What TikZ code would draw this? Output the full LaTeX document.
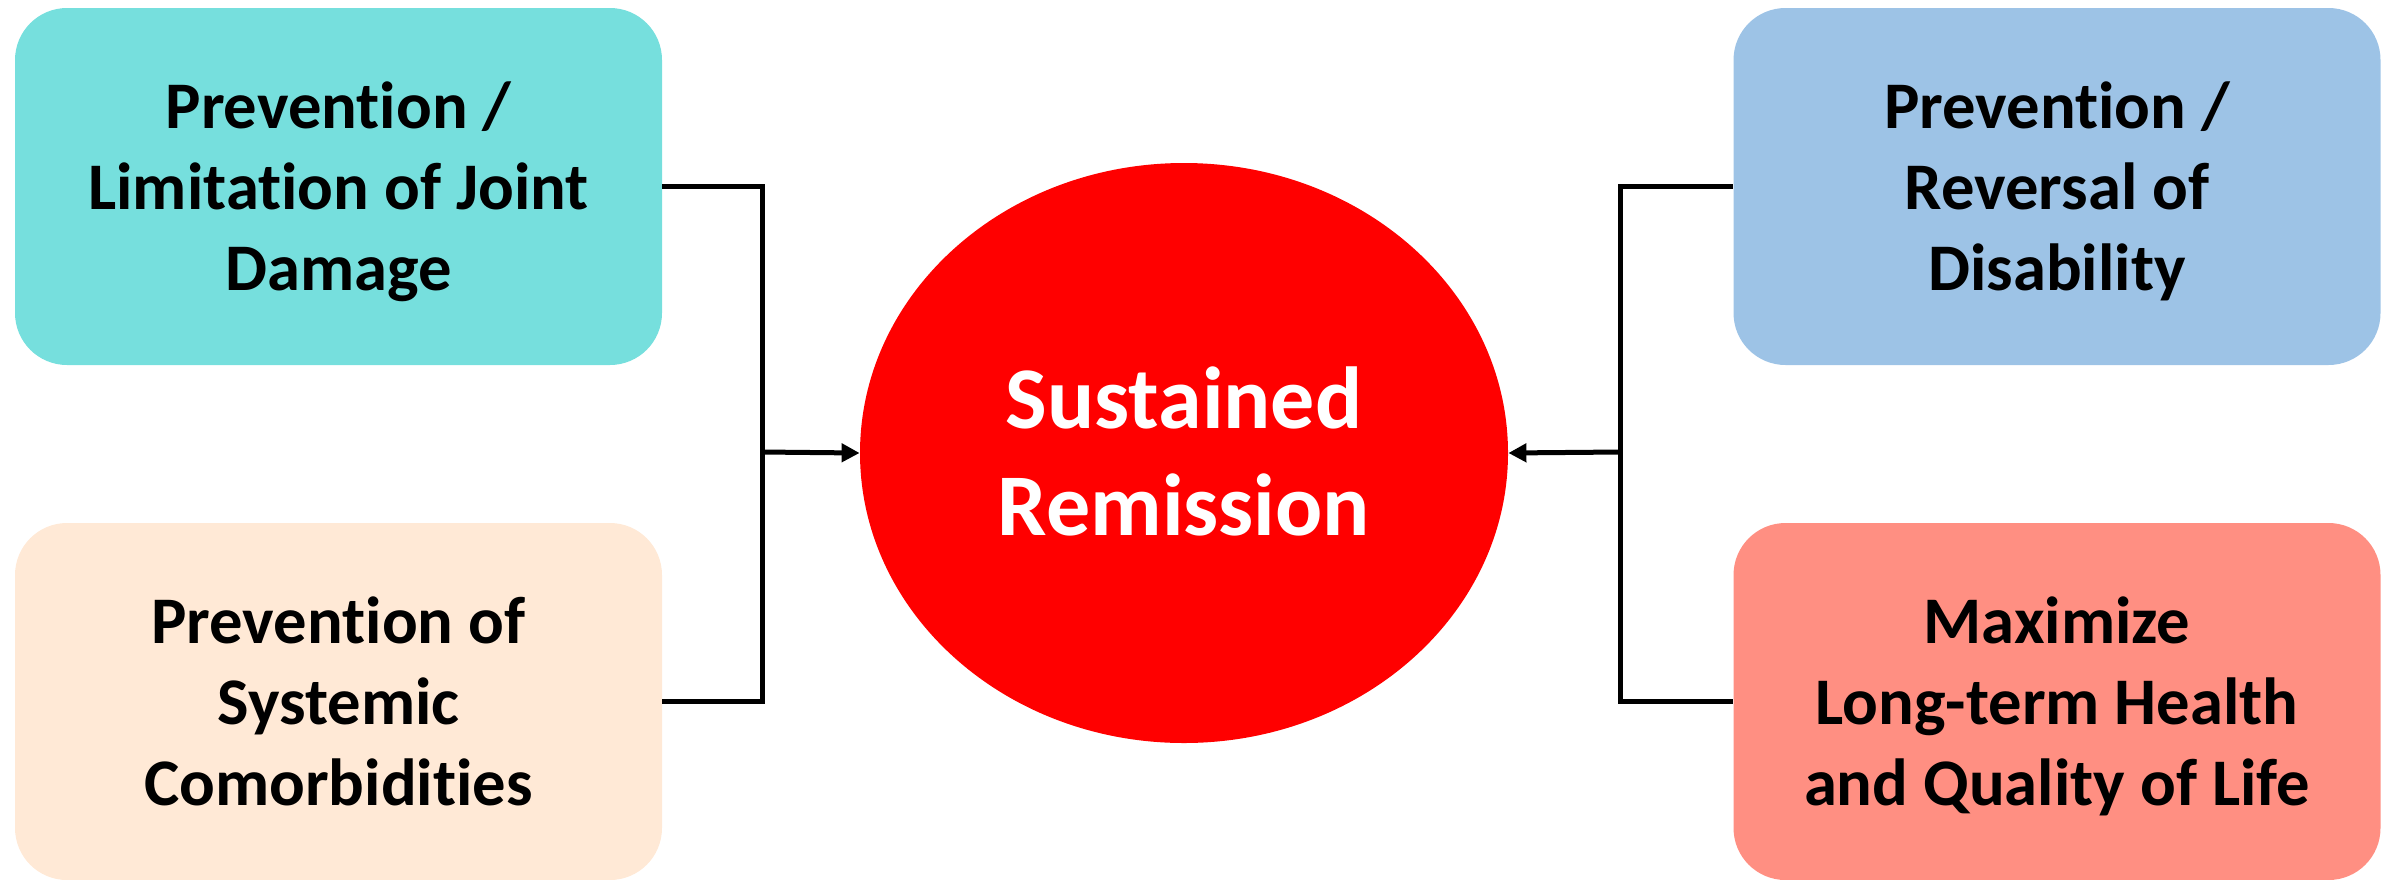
\documentclass[tikz,border=0pt]{standalone}
\usepackage{fontspec}
\setmainfont{Carlito}[Ligatures={NoCommon,NoContextual},Contextuals=NoAlternate]
\usetikzlibrary{shapes.geometric,arrows.meta}
\definecolor{cyanbox}{RGB}{118,223,221}
\definecolor{peachbox}{RGB}{255,233,214}
\definecolor{bluebox}{RGB}{157,195,230}
\definecolor{salmonbox}{RGB}{255,143,130}
\definecolor{centerred}{RGB}{255,0,0}
\tikzset{
  goalbox/.style={rectangle, rounded corners=26pt, minimum width=323.5pt, minimum height=178.5pt,
    inner sep=0pt, align=center, text=black, text height=110pt, text depth=6.5pt,
    font=\fontsize{33.3}{40.5}\selectfont\bfseries},
  centerell/.style={ellipse, fill=centerred, minimum width=324pt, minimum height=290pt, inner sep=0pt,
    align=center, text=white, text height=90pt, text depth=8pt,
    font=\fontsize{44}{53.5}\selectfont\bfseries},
  link/.style={line width=2.5pt, line join=miter, draw=black},
  linkarrow/.style={link, -{Triangle[length=9pt,width=9pt]}}
}
\begin{document}
\begin{tikzpicture}[x=0.5pt,y=-0.5pt]
\useasboundingbox (0,0) rectangle (2392,879);
\node[goalbox, fill=cyanbox] (TL) at (338.5,186.5) {Prevention /\\Limitation of Joint\\Damage};
\node[goalbox, fill=peachbox] (BL) at (338.5,701.5) {Prevention of\\Systemic\\Comorbidities};
\node[goalbox, fill=bluebox] (TR) at (2057,186.5) {Prevention /\\Reversal of\\Disability};
\node[goalbox, fill=salmonbox] (BR) at (2057,701.5) {Maximize\\Long-term Health\\and Quality of Life};
\node[centerell] (E) at (1184,453) {Sustained\\Remission};
\coordinate (jL) at (762,452);
\coordinate (jR) at (1620,452);
\draw[link] (TL.east) -| (jL) |- (BL.east);
\draw[linkarrow] (jL) -- (E.west);
\draw[link] (TR.west) -| (jR) |- (BR.west);
\draw[linkarrow] (jR) -- (E.east);
\end{tikzpicture}
\end{document}
